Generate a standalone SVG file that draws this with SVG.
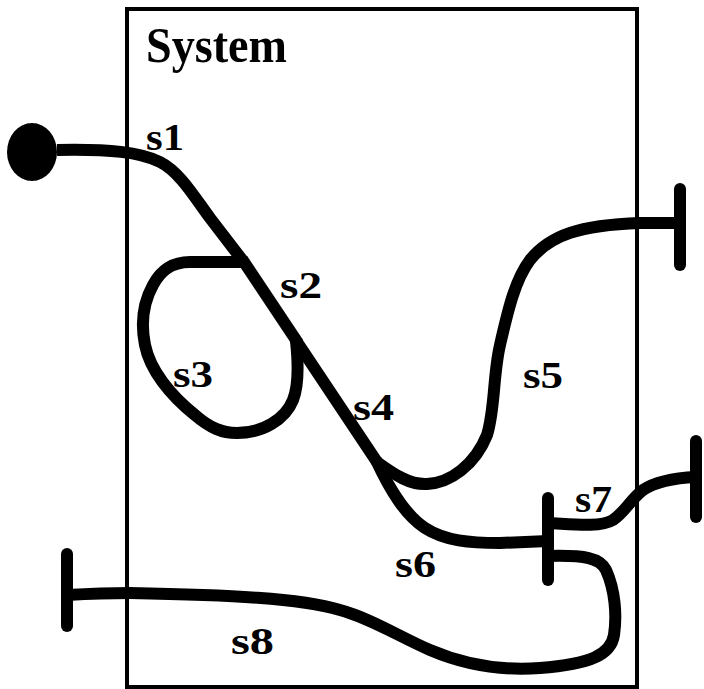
<svg xmlns="http://www.w3.org/2000/svg" width="704" height="689" viewBox="0 0 704 689">
<style>
.box{fill:none;stroke:#000;stroke-width:4}
.wire{fill:none;stroke:#000;stroke-width:12;stroke-linejoin:round}
.bar{fill:none;stroke:#000;stroke-width:12;stroke-linecap:round}
text{font-family:'Liberation Serif',serif;font-weight:700;fill:#000}
.title{font-size:50px}
.lbl{font-size:37px}
</style>
<rect width="704" height="689" fill="#fff"/>
<g id="system">
<rect class="box" x="127" y="9" width="510" height="678"/>
<text class="title" x="146" y="62" textLength="141" lengthAdjust="spacingAndGlyphs">System</text>
</g>
<g id="start">
<ellipse cx="32" cy="152" rx="25" ry="29" fill="#000"/>
</g>
<g id="end-s5"><line class="bar" x1="680" y1="189" x2="680" y2="265"/></g>
<g id="end-s7"><line class="bar" x1="696" y1="441" x2="696" y2="517"/></g>
<g id="junction-s6-s7-s8"><line class="bar" x1="548" y1="498" x2="548" y2="580"/></g>
<g id="end-s8"><line class="bar" x1="67" y1="554" x2="67" y2="626"/></g>
<g id="connectors">
<path id="s1" class="wire" d="M57,150 C110,149 140,152 160,162 C180,172 195,198 210,218 L243,261"/>
<path id="s2" class="wire" d="M242,259 L298,343"/>
<path id="s3" class="wire" d="M243,262 L190,262 C170,262 160,272 153,285 C143,303 141,325 145,345 C150,370 170,395 195,415 C210,428 222,433 237,433 C262,433 285,420 293,400 C299,385 298,360 296,341"/>
<path id="s4" class="wire" d="M297,342 L377,462"/>
<path id="s5" class="wire" d="M377,462 C395,475 410,485 427,484 C450,483 475,465 487,435 C495,410 493,375 500,345 C508,310 515,280 530,260 C550,235 580,225 640,223 L682,223"/>
<path id="s6" class="wire" d="M376,460 C390,490 405,515 425,528 C445,541 470,543 500,543 L548,541"/>
<path id="s7" class="wire" d="M548,523 C570,524 600,528 613,520 C625,512 630,500 643,490 C655,482 675,478 696,477"/>
<path id="s8" class="wire" d="M548,556 C585,555 600,558 606,570 C615,590 617,615 614,635 C611,655 590,664 540,668 C500,671 465,665 430,650 C400,637 370,618 340,610 C300,598 230,595 130,593 C105,593 85,594 67,595"/>
</g>
<g id="labels">
<text class="lbl" x="146" y="150" textLength="38" lengthAdjust="spacingAndGlyphs">s1</text>
<text class="lbl" x="280" y="298" textLength="42" lengthAdjust="spacingAndGlyphs">s2</text>
<text class="lbl" x="173" y="387" textLength="40" lengthAdjust="spacingAndGlyphs">s3</text>
<text class="lbl" x="353" y="420" textLength="41" lengthAdjust="spacingAndGlyphs">s4</text>
<text class="lbl" x="523" y="388" textLength="40" lengthAdjust="spacingAndGlyphs">s5</text>
<text class="lbl" x="395" y="577" textLength="41" lengthAdjust="spacingAndGlyphs">s6</text>
<text class="lbl" x="575" y="512" textLength="37" lengthAdjust="spacingAndGlyphs">s7</text>
<text class="lbl" x="231" y="654" textLength="43" lengthAdjust="spacingAndGlyphs">s8</text>
</g>
</svg>
